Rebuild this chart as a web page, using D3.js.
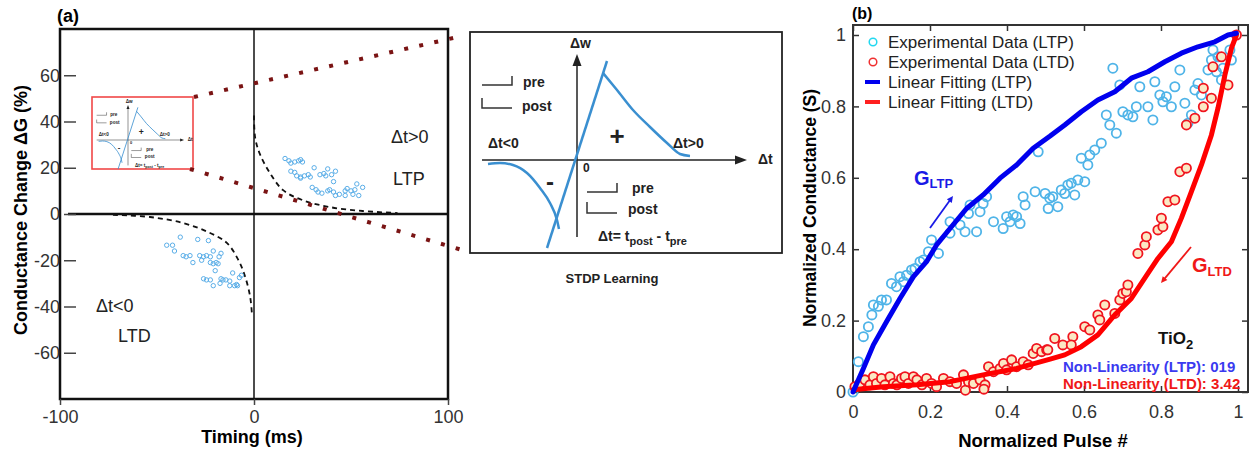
<!DOCTYPE html>
<html>
<head>
<meta charset="utf-8">
<script src="https://cdn.jsdelivr.net/npm/d3@7"></script>
<style>
body { margin: 0; background: #fff; }
svg { display: block; font-family: "Liberation Sans", Arial, sans-serif; }
</style>
</head>
<body>
<svg id="fig" width="1256" height="453"></svg>
<script>
// ---- panel (a) data : STDP timing vs conductance change
var timingTicks = [-100, 0, 100];
var changeTicks = [-60, -40, -20, 0, 20, 40, 60];

var ltpPointsA = [[16,24],[18,23],[19,22],[21,22.5],[23,23],[24,23.5],[25,22.5],[19,18.5],[21,18],[22,16.5],
  [24,16],[26,16.5],[28,17],[29,16],[24,15.5],[31,20],[34,17],[36,17.5],[37,16.5],[38,19.5],[40,17],[42,18.5],
  [41,14],[30,11.5],[32,10.5],[33,9.5],[35,9],[38,10],[39,10.5],[41,9.5],[42,8],[47,10],[48,11],[50,10],
  [52,10.5],[53,13],[54,8],[56,11.5],[51,8.5],[47,8],[44,8.5]];
var ltdPointsA = [[-45,-13.5],[-42,-13.5],[-41,-16],[-38,-10],[-36.5,-18],[-35,-18.5],[-33,-18],[-31.5,-21],
  [-29,-11],[-28,-18],[-27,-20],[-26,-18.5],[-24.5,-18],[-23.5,-11.5],[-22.5,-18.5],[-21,-16],[-22.5,-21],
  [-21,-21.5],[-19.5,-21],[-18.5,-21.5],[-18,-18.5],[-17,-17],[-20,-24.5],[-26,-28],[-24.5,-28.5],[-22.5,-28.5],
  [-21,-31],[-17.5,-30],[-17,-28],[-16,-28.5],[-14.5,-28.5],[-12.5,-29],[-12.5,-31],[-11,-25.5],[-10,-31],
  [-9,-30.5],[-8.5,-31],[-7.5,-27.5],[-6.5,-26.5]];
var ltpFitA = [[0,42.6],[0.6,33],[3,26],[8.3,17.6],[15,10.3],[25,6],[39,3],[56,1.3],[74,0.4]];
var ltdFitA = [[-72.7,-0.4],[-53.6,-1.3],[-36.6,-3.9],[-24,-7.7],[-14,-12.5],[-8,-20],[-4.6,-27],[-2,-35.7],[-1,-44]];

// ---- STDP schematic (dt, dw in arbitrary units)
var stdpRise = [[-0.30,-0.88],[0.30,0.99]];
var stdpPot = [[0.26,0.87],[0.40,0.70],[0.56,0.50],[0.73,0.33],[0.90,0.17],[1.03,0.06],[1.13,0.04]];
var stdpDep = [[-0.89,-0.04],[-0.77,-0.03],[-0.64,-0.05],[-0.50,-0.13],[-0.37,-0.28],[-0.27,-0.43],[-0.20,-0.60],[-0.18,-0.69]];

// ---- panel (b) data : normalized conductance vs pulse
var pulseTicks = [0, 0.2, 0.4, 0.6, 0.8, 1];
var condTicks = [0, 0.2, 0.4, 0.6, 0.8, 1];

var ltpExp = [[0,0],[0.014,0.085],[0.027,0.155],[0.040,0.183],[0.049,0.216],[0.053,0.244],[0.066,0.240],[0.074,0.258],
  [0.087,0.258],[0.100,0.304],[0.113,0.295],[0.122,0.323],[0.131,0.309],[0.139,0.327],[0.152,0.342],[0.161,0.346],
  [0.174,0.365],[0.183,0.370],[0.196,0.393],[0.204,0.426],[0.222,0.388],[0.252,0.477],[0.252,0.445],[0.278,0.468],
  [0.291,0.449],[0.300,0.500],[0.304,0.524],[0.321,0.449],[0.330,0.505],[0.338,0.528],[0.347,0.547],[0.365,0.477],
  [0.390,0.458],[0.399,0.491],[0.408,0.477],[0.416,0.496],[0.425,0.491],[0.434,0.472],[0.442,0.547],[0.447,0.524],
  [0.473,0.561],[0.481,0.673],[0.499,0.556],[0.507,0.514],[0.511,0.543],[0.519,0.547],[0.532,0.519],[0.541,0.566],
  [0.550,0.556],[0.558,0.580],[0.567,0.585],[0.576,0.552],[0.584,0.594],[0.602,0.589],[0.593,0.655],[0.615,0.664],
  [0.610,0.636],[0.628,0.678],[0.645,0.697],[0.658,0.776],[0.667,0.748],[0.684,0.725],[0.675,0.907],[0.693,0.860],
  [0.701,0.785],[0.714,0.776],[0.727,0.771],[0.736,0.799],[0.745,0.855],[0.766,0.799],[0.779,0.762],[0.784,0.869],
  [0.797,0.832],[0.805,0.813],[0.814,0.827],[0.827,0.799],[0.836,0.855],[0.849,0.902],[0.862,0.809],[0.870,0.753],
  [0.879,0.776],[0.888,0.846],[0.896,0.864],[0.905,0.832],[0.922,0.902],[0.931,0.930],[0.935,0.958],[0.944,0.897],
  [0.948,0.939],[0.957,0.874],[0.961,0.907],[0.979,0.958],[0.983,0.930]];

var ltdExp = [[0.005,0.015],[0.018,0.024],[0.031,0.034],[0.044,0.020],[0.053,0.043],[0.061,0.024],[0.074,0.038],
  [0.083,0.020],[0.096,0.043],[0.105,0.024],[0.114,0.020],[0.126,0.038],[0.135,0.043],[0.144,0.024],[0.157,0.043],
  [0.166,0.034],[0.179,0.020],[0.191,0.038],[0.204,0.024],[0.217,0.015],[0.235,0.038],[0.252,0.029],[0.269,0.024],
  [0.287,0.048],[0.292,0.005],[0.300,0.029],[0.313,0.024],[0.330,0.034],[0.343,0.020],[0.340,0.008],[0.352,0.071],
  [0.365,0.057],[0.382,0.066],[0.391,0.080],[0.399,0.062],[0.412,0.090],[0.425,0.071],[0.442,0.085],[0.455,0.076],
  [0.468,0.108],[0.477,0.122],[0.490,0.113],[0.503,0.118],[0.506,0.118],[0.524,0.150],[0.545,0.132],[0.571,0.155],
  [0.567,0.132],[0.602,0.183],[0.615,0.174],[0.636,0.216],[0.641,0.202],[0.654,0.244],[0.680,0.220],[0.693,0.258],
  [0.701,0.276],[0.710,0.281],[0.714,0.300],[0.740,0.388],[0.758,0.412],[0.762,0.435],[0.792,0.454],[0.805,0.463],
  [0.801,0.487],[0.818,0.533],[0.836,0.538],[0.849,0.617],[0.866,0.627],[0.866,0.748],[0.888,0.767],[0.910,0.799],
  [0.931,0.823],[0.910,0.851],[0.935,0.911],[0.957,0.939],[0.974,0.860],[0.996,1.0]];

var ltpFit = [[0,0],[0.027,0.066],[0.053,0.132],[0.087,0.197],[0.122,0.262],[0.157,0.323],[0.191,0.365],
  [0.217,0.412],[0.252,0.458],[0.295,0.514],[0.338,0.552],[0.382,0.599],[0.425,0.636],[0.468,0.683],[0.512,0.717],
  [0.550,0.748],[0.593,0.785],[0.636,0.818],[0.680,0.841],[0.723,0.879],[0.766,0.897],[0.810,0.925],[0.853,0.949],
  [0.896,0.967],[0.940,0.981],[0.974,1.0],[0.996,1.005]];
var ltdFit = [[0,0.006],[0.079,0.015],[0.166,0.020],[0.252,0.029],[0.338,0.048],[0.425,0.066],[0.512,0.092],
  [0.550,0.104],[0.593,0.127],[0.636,0.160],[0.680,0.216],[0.723,0.262],[0.766,0.332],[0.792,0.374],[0.827,0.421],
  [0.853,0.487],[0.879,0.561],[0.905,0.636],[0.931,0.720],[0.948,0.795],[0.966,0.888],[0.983,0.963],[0.996,1.0]];

var legendLabels = ['Experimental Data (LTP)', 'Experimental Data (LTD)', 'Linear Fitting (LTP)', 'Linear Fitting (LTD)'];

var svg = d3.select('#fig');
var dark = '#222';

// ================= panel (a) =================
var xa = d3.scaleLinear().domain([-100, 100]).range([60, 448]);
var ya = d3.scaleLinear().domain([-80, 80]).range([399, 29]);

svg.append('text').attr('x', 57).attr('y', 22).attr('font-size', 18).attr('font-weight', 'bold').text('(a)');

svg.append('rect').attr('x', 60).attr('y', 29).attr('width', 388).attr('height', 370)
  .attr('fill', 'none').attr('stroke', '#111').attr('stroke-width', 2.5);

svg.append('line').attr('x1', xa(0)).attr('x2', xa(0)).attr('y1', 29).attr('y2', 399)
  .attr('stroke', '#111').attr('stroke-width', 1.5);
svg.append('line').attr('x1', 68).attr('x2', 448).attr('y1', ya(0)).attr('y2', ya(0))
  .attr('stroke', '#111').attr('stroke-width', 2.5);

var yAxA = svg.append('g').attr('transform', 'translate(76,0)')
  .call(d3.axisLeft(ya).tickValues(changeTicks).tickSize(12).tickPadding(4).tickFormat(function (d) { return String(d); }));
var xAxA = svg.append('g').attr('transform', 'translate(0,399)')
  .call(d3.axisBottom(xa).tickValues(timingTicks).tickSize(6).tickPadding(5).tickFormat(function (d) { return String(d); }));
[yAxA, xAxA].forEach(function (ax) {
  ax.select('.domain').remove();
  ax.selectAll('line').attr('stroke', '#444').attr('stroke-width', 1.5);
  ax.selectAll('text').attr('font-size', 18).attr('fill', '#333').attr('font-family', '"Liberation Sans", Arial, sans-serif');
});

svg.append('text').attr('x', 252).attr('y', 443).attr('text-anchor', 'middle')
  .attr('font-size', 18).attr('font-weight', 'bold').text('Timing (ms)');
svg.append('text').attr('transform', 'translate(27,210) rotate(-90)').attr('text-anchor', 'middle')
  .attr('font-size', 18).attr('font-weight', 'bold').text('Conductance Change \u0394G (%)');

// fits
var lineA = d3.line().x(function (d) { return xa(d[0]); }).y(function (d) { return ya(d[1]); }).curve(d3.curveCatmullRom);
[ltpFitA, ltdFitA].forEach(function (f) {
  svg.append('path').attr('d', lineA(f)).attr('fill', 'none').attr('stroke', '#111')
    .attr('stroke-width', 1.8).attr('stroke-dasharray', '5 4');
});

// scatter
svg.append('g').selectAll('circle').data(ltpPointsA.concat(ltdPointsA)).enter().append('circle')
  .attr('cx', function (d) { return xa(d[0]); }).attr('cy', function (d) { return ya(d[1]); })
  .attr('r', 2.2).attr('fill', 'none').attr('stroke', '#5aaee8').attr('stroke-width', 1);

// labels
svg.append('text').attr('x', 391).attr('y', 143).attr('font-size', 18).attr('fill', dark).text('\u0394t>0');
svg.append('text').attr('x', 393).attr('y', 185).attr('font-size', 18).attr('fill', dark).text('LTP');
svg.append('text').attr('x', 96).attr('y', 312).attr('font-size', 18).attr('fill', dark).text('\u0394t<0');
svg.append('text').attr('x', 118).attr('y', 342).attr('font-size', 18).attr('fill', dark).text('LTD');

// ---- STDP schematic drawer
function drawStdp(g, full) {
  var u = d3.scaleLinear().domain([0, 1]).range([0, 100]);
  var w = d3.scaleLinear().domain([0, 1]).range([0, -100]);
  var ln = d3.line().x(function (d) { return u(d[0]); }).y(function (d) { return w(d[1]); }).curve(d3.curveMonotoneX);
  var ink = '#222';
  if (full) {
    g.append('rect').attr('x', -107).attr('y', -128).attr('width', 312).attr('height', 221)
      .attr('fill', '#fff').attr('stroke', ink).attr('stroke-width', 1.8);
  }
  g.append('line').attr('x1', -95).attr('x2', 162).attr('y1', 0).attr('y2', 0).attr('stroke', ink).attr('stroke-width', 1.5);
  g.append('path').attr('d', 'M170,0 L158,-4.5 L158,4.5 Z').attr('fill', ink);
  g.append('line').attr('x1', 0).attr('x2', 0).attr('y1', 77).attr('y2', -96).attr('stroke', ink).attr('stroke-width', 1.5);
  g.append('path').attr('d', 'M0,-106 L-4.5,-94 L4.5,-94 Z').attr('fill', ink);

  [stdpRise, stdpPot, stdpDep].forEach(function (c) {
    g.append('path').attr('d', ln(c)).attr('fill', 'none').attr('stroke', '#3a8fd0').attr('stroke-width', 2.5);
  });

  var pulses = ['M-95,-75 H-65 V-84', 'M-95,-62 V-52 H-65', 'M10,32 H40 V23', 'M10,42 V53 H40'];
  pulses.forEach(function (p) {
    g.append('path').attr('d', p).attr('fill', 'none').attr('stroke', '#333').attr('stroke-width', 1.5);
  });

  function t(x, y, s, size, anchor) {
    return g.append('text').attr('x', x).attr('y', y).attr('font-size', size || 14)
      .attr('font-weight', 'bold').attr('fill', ink).attr('text-anchor', anchor || 'start').text(s);
  }
  t(-7, -112, '\u0394w');
  t(181, 4, '\u0394t');
  t(6, 12, '0', 12);
  t(-89, -12, '\u0394t<0');
  t(96, -12, '\u0394t>0');
  t(40, -15, '+', 26, 'middle');
  t(-27, 30, '-', 24, 'middle');
  t(-54, -73, 'pre');
  t(-55, -49, 'post');
  t(55, 33, 'pre');
  t(51, 54, 'post');
  var eq = t(21, 81, '\u0394t= t');
  eq.append('tspan').attr('font-size', 11).attr('dy', 4).text('post');
  eq.append('tspan').attr('dy', -4).text(' - t');
  eq.append('tspan').attr('font-size', 11).attr('dy', 4).text('pre');
  if (full) {
    g.append('text').attr('x', 35).attr('y', 123).attr('text-anchor', 'middle').attr('font-size', 13)
      .attr('font-weight', 'bold').attr('fill', ink).text('STDP Learning');
  }
}

// small copy inside the plot
svg.append('rect').attr('x', 92).attr('y', 97).attr('width', 101).attr('height', 72)
  .attr('fill', '#fff').attr('stroke', '#f04848').attr('stroke-width', 1.6);
drawStdp(svg.append('g').attr('transform', 'translate(128,140) scale(0.33)'), false);

// big inset
drawStdp(svg.append('g').attr('transform', 'translate(577,160)'), true);

// dotted connectors
[[194, 97, 462, 36], [190, 169, 462, 250]].forEach(function (c) {
  svg.append('line').attr('x1', c[0]).attr('y1', c[1]).attr('x2', c[2]).attr('y2', c[3])
    .attr('stroke', '#7a1414').attr('stroke-width', 4).attr('stroke-dasharray', '4 11.4');
});

// ================= panel (b) =================
var xb = d3.scaleLinear().domain([0, 1.026]).range([853, 1248]);
var yb = d3.scaleLinear().domain([0, 1.028]).range([392, 25]);

svg.append('text').attr('x', 852).attr('y', 19).attr('font-size', 16).attr('font-weight', 'bold').text('(b)');

var fmt = function (d) { return String(d); };
var axB = [
  svg.append('g').attr('transform', 'translate(0,392)').call(d3.axisBottom(xb).tickValues(pulseTicks).tickSizeInner(-6).tickSizeOuter(0).tickPadding(13).tickFormat(fmt)),
  svg.append('g').attr('transform', 'translate(0,25)').call(d3.axisTop(xb).tickValues(pulseTicks).tickSizeInner(-6).tickSizeOuter(0).tickFormat('')),
  svg.append('g').attr('transform', 'translate(853,0)').call(d3.axisLeft(yb).tickValues(condTicks).tickSizeInner(-6).tickSizeOuter(0).tickPadding(7).tickFormat(fmt)),
  svg.append('g').attr('transform', 'translate(1248,0)').call(d3.axisRight(yb).tickValues(condTicks).tickSizeInner(-6).tickSizeOuter(0).tickFormat(''))
];
axB.forEach(function (ax) {
  ax.select('.domain').remove();
  ax.selectAll('line').attr('stroke', '#333').attr('stroke-width', 1.5);
  ax.selectAll('text').attr('font-size', 18).attr('fill', '#333').attr('font-family', '"Liberation Sans", Arial, sans-serif');
});
svg.append('rect').attr('x', 853).attr('y', 25).attr('width', 395).attr('height', 367)
  .attr('fill', 'none').attr('stroke', '#333').attr('stroke-width', 2);

svg.append('text').attr('x', 1043).attr('y', 447).attr('text-anchor', 'middle')
  .attr('font-size', 18.5).attr('font-weight', 'bold').text('Normalized Pulse #');
svg.append('text').attr('transform', 'translate(816,208) rotate(-90)').attr('text-anchor', 'middle')
  .attr('font-size', 17.5).attr('font-weight', 'bold').text('Normalized Conductance (S)');

// scatter
svg.append('g').selectAll('circle').data(ltpExp).enter().append('circle')
  .attr('cx', function (d) { return xb(d[0]); }).attr('cy', function (d) { return yb(d[1]); })
  .attr('r', 4.6).attr('fill', 'none').attr('stroke', '#4fb4e8').attr('stroke-width', 1.8);
svg.append('g').selectAll('circle').data(ltdExp).enter().append('circle')
  .attr('cx', function (d) { return xb(d[0]); }).attr('cy', function (d) { return yb(d[1]); })
  .attr('r', 4.6).attr('fill', '#fbe8c4').attr('stroke', '#f0141e').attr('stroke-width', 1.8);

// fitted lines
var lineB = d3.line().x(function (d) { return xb(d[0]); }).y(function (d) { return yb(d[1]); });
svg.append('path').attr('d', lineB(ltdFit)).attr('fill', 'none').attr('stroke', '#ff0000').attr('stroke-width', 5)
  .attr('stroke-linejoin', 'round').attr('stroke-linecap', 'round');
svg.append('path').attr('d', lineB(ltpFit)).attr('fill', 'none').attr('stroke', '#0000ee').attr('stroke-width', 5)
  .attr('stroke-linejoin', 'round').attr('stroke-linecap', 'round');

// legend
var lg = svg.append('g').attr('font-size', 17).attr('fill', dark);
legendLabels.forEach(function (s, i) {
  var y = 42 + i * 20;
  if (i < 2) {
    lg.append('circle').attr('cx', 873).attr('cy', y).attr('r', 3.8).attr('fill', 'none')
      .attr('stroke', i === 0 ? '#22d8f0' : '#f03030').attr('stroke-width', 1.5);
  } else {
    lg.append('line').attr('x1', 865).attr('x2', 880).attr('y1', y).attr('y2', y)
      .attr('stroke', i === 2 ? '#0000ee' : '#ff2020').attr('stroke-width', 4);
  }
  lg.append('text').attr('x', 888).attr('y', y + 6).text(s);
});

// annotations
var gl = svg.append('text').attr('x', 914).attr('y', 185).attr('font-size', 20).attr('font-weight', 'bold').attr('fill', '#1a1ae6').text('G');
gl.append('tspan').attr('font-size', 13).attr('dy', 3).text('LTP');
var gd = svg.append('text').attr('x', 1192).attr('y', 272).attr('font-size', 20).attr('font-weight', 'bold').attr('fill', '#f01818').text('G');
gd.append('tspan').attr('font-size', 13).attr('dy', 4).text('LTD');

function arrow(x1, y1, x2, y2, col) {
  var a = Math.atan2(y2 - y1, x2 - x1), L = 7, s = 0.45;
  svg.append('line').attr('x1', x1).attr('y1', y1).attr('x2', x2 - 4 * Math.cos(a)).attr('y2', y2 - 4 * Math.sin(a))
    .attr('stroke', col).attr('stroke-width', 1.8);
  svg.append('path').attr('d', 'M' + x2 + ',' + y2 +
      'L' + (x2 - L * Math.cos(a - s)) + ',' + (y2 - L * Math.sin(a - s)) +
      'L' + (x2 - L * Math.cos(a + s)) + ',' + (y2 - L * Math.sin(a + s)) + 'Z').attr('fill', col);
}
arrow(930, 228, 953, 196, '#1a1ae6');
arrow(1191, 247, 1161, 283, '#f01818');

var tio = svg.append('text').attr('x', 1158).attr('y', 344).attr('font-size', 17).attr('font-weight', 'bold').attr('fill', '#111').text('TiO');
tio.append('tspan').attr('dy', 5).attr('font-size', 13).text('2');

svg.append('text').attr('x', 1063).attr('y', 372).attr('font-size', 15).attr('font-weight', 'bold')
  .attr('fill', '#3a3af0').text('Non-Linearity (LTP): 019');
svg.append('text').attr('x', 1063).attr('y', 389).attr('font-size', 15).attr('font-weight', 'bold')
  .attr('fill', '#f01818').text('Non-Linearity (LTD): 3.42');
</script>
</body>
</html>
